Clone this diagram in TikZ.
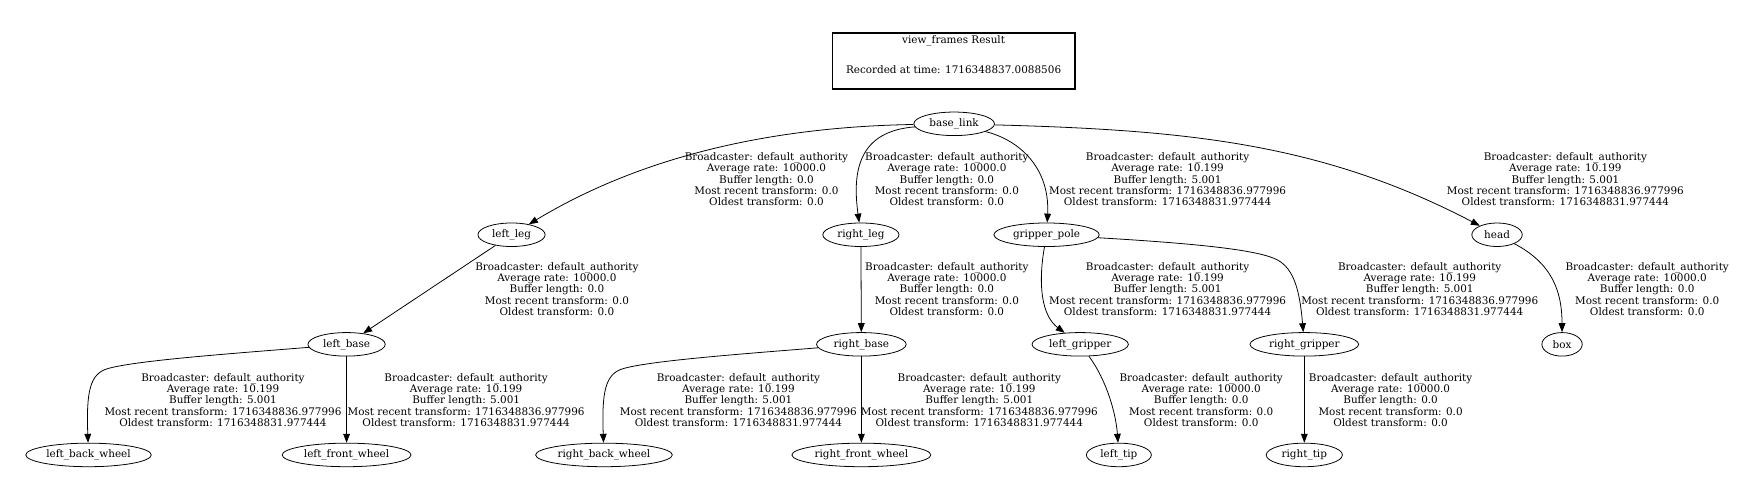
\documentclass[tikz,border=0pt]{standalone}
\usepackage{fontspec}
\setmainfont{DejaVu Serif}
\usetikzlibrary{shapes.geometric,arrows.meta}
\begin{document}
\begin{tikzpicture}[x=1pt,y=-1pt,
  frame/.style={draw, ellipse, inner sep=0pt, minimum height=21pt, line width=0.7pt, font=\fontsize{9.3}{10}\selectfont},
  lbl/.style={align=center, inner sep=0pt, font=\fontsize{9.3}{10.05}\selectfont},
  edge/.style={-{Triangle[length=8pt,width=6pt]}, line width=0.7pt}]
\useasboundingbox (0,0) rectangle (1568,443);
% title
\node[draw, line width=1.3pt, minimum width=216.5pt, minimum height=50pt, inner sep=0pt] (title) at (851,54.3) {};
\node[lbl] (t1) at (851,36.3) {view\_frames Result};
\node[lbl] (t2) at (851,61.9) {Recorded at time: 1716348837.0088506};
% frames
\node[frame, minimum width=72pt] (base_link) at (851.5,110.5) {\makebox[0pt]{base\_link}};
\node[frame, minimum width=60pt] (left_leg) at (456.5,209.5) {\makebox[0pt]{left\_leg}};
\node[frame, minimum width=68pt] (right_leg) at (768.3,209.5) {\makebox[0pt]{right\_leg}};
\node[frame, minimum width=94pt] (gripper_pole) at (934,209.5) {\makebox[0pt]{gripper\_pole}};
\node[frame, minimum width=45pt] (head) at (1336,209.5) {\makebox[0pt]{head}};
\node[frame, minimum width=69pt] (left_base) at (309.3,307.3) {\makebox[0pt]{left\_base}};
\node[frame, minimum width=80pt] (right_base) at (768.7,307.3) {\makebox[0pt]{right\_base}};
\node[frame, minimum width=86pt] (left_gripper) at (964,307.3) {\makebox[0pt]{left\_gripper}};
\node[frame, minimum width=97pt] (right_gripper) at (1164,307.3) {\makebox[0pt]{right\_gripper}};
\node[frame, minimum width=36pt] (box) at (1394,307.3) {\makebox[0pt]{box}};
\node[frame, minimum width=112pt] (left_back_wheel) at (79,406) {\makebox[0pt]{left\_back\_wheel}};
\node[frame, minimum width=115pt] (left_front_wheel) at (309.3,406) {\makebox[0pt]{left\_front\_wheel}};
\node[frame, minimum width=122pt] (right_back_wheel) at (539,406) {\makebox[0pt]{right\_back\_wheel}};
\node[frame, minimum width=124pt] (right_front_wheel) at (768.7,406) {\makebox[0pt]{right\_front\_wheel}};
\node[frame, minimum width=58pt] (left_tip) at (998.5,406) {\makebox[0pt]{left\_tip}};
\node[frame, minimum width=68pt] (right_tip) at (1164,406) {\makebox[0pt]{right\_tip}};
% edges
\draw[edge] (base_link) .. controls (700,113) and (580,135) .. (left_leg);
\draw[edge] (base_link) .. controls (768,117) and (760,150) .. (right_leg);
\draw[edge] (base_link) .. controls (910,125) and (937,150) .. (gripper_pole);
\draw[edge] (base_link) .. controls (1060,116) and (1180,128) .. (head);
\draw[edge] (left_leg) -- (left_base);
\draw[edge] (right_leg) -- (right_base);
\draw[edge] (gripper_pole) .. controls (926,255) and (930,282) .. (left_gripper);
\draw[edge] (gripper_pole) .. controls (1080,218) and (1125,224) .. (1140,232) .. controls (1155,240) and (1160,260) .. (right_gripper);
\draw[edge] (head) .. controls (1385,235) and (1394,260) .. (box);
\draw[edge] (left_base) .. controls (200,316) and (120,322) .. (96,329) .. controls (80,333.7) and (77,350) .. (left_back_wheel);
\draw[edge] (left_base) -- (left_front_wheel);
\draw[edge] (right_base) .. controls (660,316) and (580,322) .. (556,329) .. controls (540,333.7) and (537,350) .. (right_back_wheel);
\draw[edge] (right_base) -- (right_front_wheel);
\draw[edge] (left_gripper) .. controls (988,340) and (996,370) .. (left_tip);
\draw[edge] (right_gripper) -- (right_tip);
% labels
\def\lA{Broadcaster: default\_authority\\Average rate: 10000.0\\Buffer length: 0.0\\Most recent transform: 0.0\\Oldest transform: 0.0}
\def\lB{Broadcaster: default\_authority\\Average rate: 10.199\\Buffer length: 5.001\\Most recent transform: 1716348836.977996\\Oldest transform: 1716348831.977444}
\node[lbl] (e1) at (684,160) {\lA};
\node[lbl] (e2) at (845,160) {\lA};
\node[lbl] (e3) at (1042,160) {\lB};
\node[lbl] (e4) at (1397,160) {\lB};
\node[lbl] (e5) at (497,258) {\lA};
\node[lbl] (e6) at (845,258) {\lA};
\node[lbl] (e7) at (1042,258) {\lB};
\node[lbl] (e8) at (1267,258) {\lB};
\node[lbl] (e9) at (1470,258) {\lA};
\node[lbl] (e10) at (199,357) {\lB};
\node[lbl] (e11) at (416,357) {\lB};
\node[lbl] (e12) at (659,357) {\lB};
\node[lbl] (e13) at (874,357) {\lB};
\node[lbl] (e14) at (1072,357) {\lA};
\node[lbl] (e15) at (1241,357) {\lA};
\end{tikzpicture}
\end{document}
